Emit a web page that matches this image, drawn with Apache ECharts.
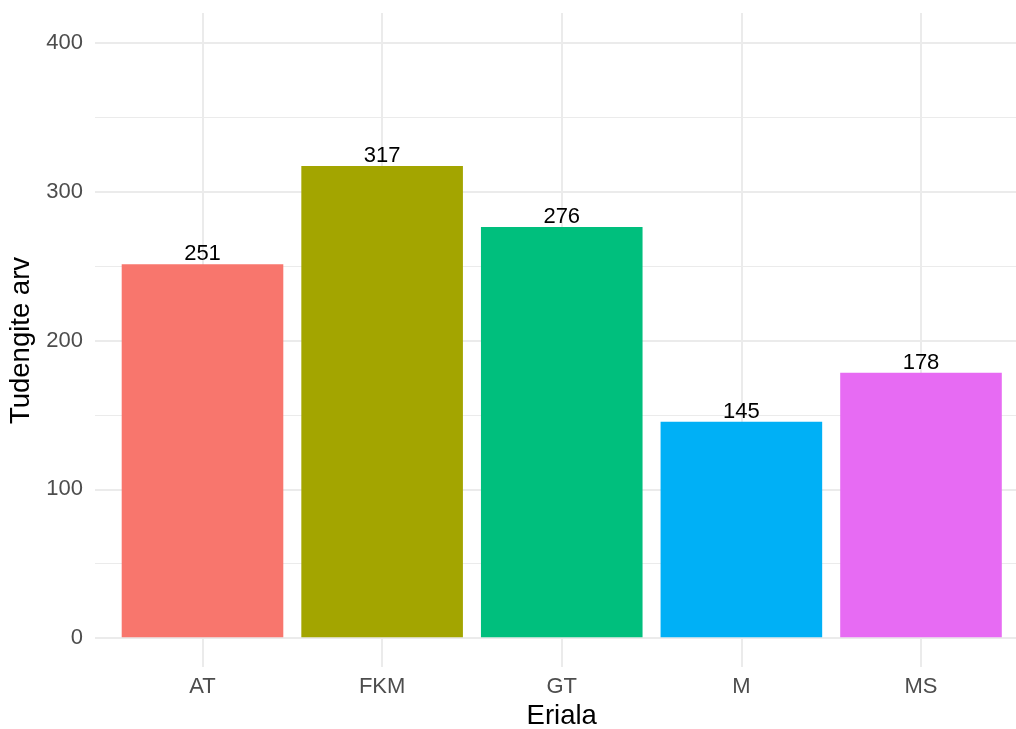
<!DOCTYPE html>
<html>
<head>
<meta charset="utf-8">
<script src="https://cdn.jsdelivr.net/npm/echarts@6/dist/echarts.min.js"></script>
<style>
html,body{margin:0;padding:0;background:#fff;}
#chart{width:1016px;height:729px;}
</style>
</head>
<body>
<div id="chart"></div>
<script>
const categories = ['AT', 'FKM', 'GT', 'M', 'MS'];
const values = [251, 317, 276, 145, 178];
const barColors = ['#F8766D', '#A3A500', '#00BF7D', '#00B0F6', '#E76BF3'];
const yTicks = [0, 100, 200, 300, 400];

const FONT = '"Liberation Sans", Arial, Helvetica, sans-serif';
const chart = echarts.init(document.getElementById('chart'), null, {renderer: 'canvas'});

const option = {
  animation: false,
  backgroundColor: '#ffffff',
  textStyle: {fontFamily: FONT},
  grid: [
    {left: 95, right: -13, top: 43, bottom: 91, containLabel: false, outerBoundsMode: 'none'},
    {left: 202.5, right: 95, top: 13, bottom: 62, containLabel: false, outerBoundsMode: 'none'}
  ],
  xAxis: [
    {gridIndex: 0, type: 'value', min: 0, max: 1, show: false},
    {
      gridIndex: 1, type: 'category', data: categories, boundaryGap: false,
      axisLine: {show: false}, axisTick: {show: false},
      axisLabel: {color: '#4d4d4d', fontSize: 22, margin: 9, fontFamily: FONT},
      splitLine: {show: true, lineStyle: {color: '#ebebeb', width: 2}},
      name: 'Eriala', nameLocation: 'middle', nameGap: 35,
      nameTextStyle: {color: '#000000', fontSize: 27.5, fontFamily: FONT}
    }
  ],
  yAxis: [
    {
      gridIndex: 0, type: 'value', min: yTicks[0], max: yTicks[yTicks.length - 1], interval: 100,
      axisLine: {show: false}, axisTick: {show: false},
      axisLabel: {color: '#4d4d4d', fontSize: 22, margin: 12, fontFamily: FONT},
      splitLine: {show: true, lineStyle: {color: '#ebebeb', width: 2}},
      minorTick: {show: false, splitNumber: 2},
      minorSplitLine: {show: true, lineStyle: {color: '#ebebeb', width: 1}},
      name: 'Tudengite arv', nameLocation: 'middle', nameGap: 54,
      nameTextStyle: {color: '#000000', fontSize: 27.5, fontFamily: FONT}
    },
    {gridIndex: 1, type: 'value', min: -20, max: 420, show: false}
  ],
  series: [{
    type: 'bar',
    xAxisIndex: 1, yAxisIndex: 1,
    barWidth: 161.6,
    clip: false,
    data: values.map((v, i) => ({value: v, itemStyle: {color: barColors[i]}})),
    label: {show: true, position: 'top', distance: -1, color: '#000000', fontSize: 22, fontFamily: FONT}
  }]
};
chart.setOption(option);
</script>
</body>
</html>
